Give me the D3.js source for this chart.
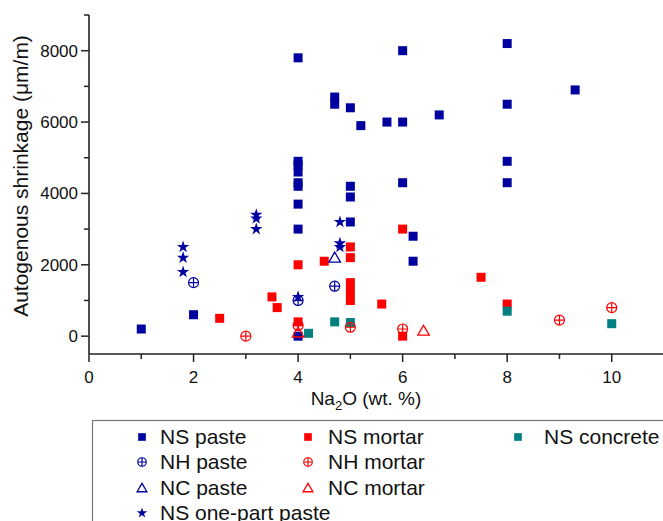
<!DOCTYPE html>
<html>
<head>
<meta charset="utf-8">
<script src="https://cdn.jsdelivr.net/npm/d3@7"></script>
<style>
  body { margin: 0; background: #fff; }
  svg { display: block; font-family: "Liberation Sans", Arial, sans-serif; }
</style>
</head>
<body>
<div id="chart"></div>
<script>
// data: [Na2O wt.%, autogenous shrinkage um/m]
const nsPaste = [[1,200],[2,600],[4,0],[4,3000],[4,3700],[4,4200],[4,4300],[4,4600],[4,4800],[4,4900],[4,7800],
  [4.7,6500],[4.7,6700],[5,3200],[5,3900],[5,4200],[5,6400],[5.2,5900],[5.7,6000],[6,4300],[6,6000],[6,8000],
  [6.2,2100],[6.2,2800],[6.7,6200],[8,4300],[8,4900],[8,6500],[8,8200],[9.3,6900]];
const nsMortar = [[2.5,500],[3.5,1100],[3.6,800],[4,400],[4,2000],[4.5,2100],[5,1000],[5,1250],[5,1500],
  [5,2200],[5,2500],[5.6,900],[6,0],[6,3000],[7.5,1650],[8,900]];
const nsConcrete = [[4.2,80],[4.7,400],[5,380],[8,700],[10,350]];
const nhPaste = [[2,1500],[4,1000],[4.7,1400]];
const nhMortar = [[3,0],[4,300],[5,250],[6,200],[9,450],[10,800]];
const ncPaste = [[4.7,2200]];
const ncMortar = [[4,100],[6.4,150]];
const nsOnePart = [[1.8,1800],[1.8,2200],[1.8,2500],[3.2,3000],[3.2,3300],[3.2,3400],[4,1100],
  [4.8,2500],[4.8,2600],[4.8,3200]];

const xTicks = [0, 2, 4, 6, 8, 10];
const xMinor = [1, 3, 5, 7, 9, 11];
const yTicks = [0, 2000, 4000, 6000, 8000];
const yMinor = [1000, 3000, 5000, 7000, 9000];

const series = [
  { name: "NS paste", data: nsPaste, shape: "square", color: "#0000A0", col: 0, row: 0 },
  { name: "NS mortar", data: nsMortar, shape: "square", color: "#FF0000", col: 1, row: 0 },
  { name: "NS concrete", data: nsConcrete, shape: "square", color: "#008080", col: 2, row: 0 },
  { name: "NH paste", data: nhPaste, shape: "oplus", color: "#0000A0", col: 0, row: 1 },
  { name: "NH mortar", data: nhMortar, shape: "oplus", color: "#FF0000", col: 1, row: 1 },
  { name: "NC paste", data: ncPaste, shape: "tri", color: "#0000A0", col: 0, row: 2 },
  { name: "NC mortar", data: ncMortar, shape: "tri", color: "#FF0000", col: 1, row: 2 },
  { name: "NS one-part paste", data: nsOnePart, shape: "star", color: "#0000A0", col: 0, row: 3 }
];

const width = 663, height = 521;
const svg = d3.select("#chart").append("svg")
  .attr("width", width).attr("height", height);

const x = d3.scaleLinear().domain([0, 11]).range([89, 664]);
const y = d3.scaleLinear().domain([-500, 9000]).range([354, 15]);

function drawMarker(g, shape, color, k) {
  if (shape === "square") {
    g.append("rect").attr("x", -4.5 * k).attr("y", -4.5 * k)
      .attr("width", 9 * k).attr("height", 9 * k).attr("fill", color);
  } else if (shape === "oplus") {
    const r = 5 * k;
    g.append("circle").attr("r", r).attr("fill", "none").attr("stroke", color).attr("stroke-width", 1.2);
    g.append("path").attr("d", `M${-r},0H${r}M0,${-r}V${r}`).attr("stroke", color).attr("stroke-width", 1.2);
  } else if (shape === "tri") {
    const s = 5.5 * k;
    g.append("path").attr("d", `M0,${-s}L${s * 1.05},${s * 0.8}L${-s * 1.05},${s * 0.8}Z`)
      .attr("fill", "none").attr("stroke", color).attr("stroke-width", 1.3);
  } else if (shape === "star") {
    g.append("path").attr("d", d3.symbol(d3.symbolStar, 48 * k * k)()).attr("fill", color);
  }
}

// axes
const axisColor = "#222";
const xAxis = svg.append("g").attr("transform", "translate(0,354)");
xAxis.append("line").attr("x1", 89).attr("x2", 664).attr("stroke", axisColor).attr("stroke-width", 1.6);
xAxis.selectAll(".maj").data(xTicks).join("line")
  .attr("x1", d => x(d)).attr("x2", d => x(d)).attr("y1", 0).attr("y2", 8)
  .attr("stroke", axisColor).attr("stroke-width", 1.5);
xAxis.selectAll(".min").data(xMinor).join("line")
  .attr("x1", d => x(d)).attr("x2", d => x(d)).attr("y1", 0).attr("y2", 5)
  .attr("stroke", axisColor).attr("stroke-width", 1.5);
xAxis.selectAll("text").data(xTicks).join("text")
  .attr("x", d => x(d)).attr("y", 29).attr("text-anchor", "middle")
  .attr("font-size", 17).attr("fill", "#111").text(d => d);

const yAxis = svg.append("g").attr("transform", "translate(89,0)");
yAxis.append("line").attr("y1", 15).attr("y2", 354).attr("stroke", axisColor).attr("stroke-width", 1.6);
yAxis.selectAll(".maj").data(yTicks).join("line")
  .attr("y1", d => y(d)).attr("y2", d => y(d)).attr("x1", 0).attr("x2", -8)
  .attr("stroke", axisColor).attr("stroke-width", 1.5);
yAxis.selectAll(".min").data(yMinor).join("line")
  .attr("y1", d => y(d)).attr("y2", d => y(d)).attr("x1", 0).attr("x2", -5)
  .attr("stroke", axisColor).attr("stroke-width", 1.5);
yAxis.selectAll("text").data(yTicks).join("text")
  .attr("x", -11).attr("y", d => y(d)).attr("dy", "0.35em").attr("text-anchor", "end")
  .attr("font-size", 17).attr("fill", "#111").text(d => d);

// axis titles
const xt = svg.append("text").attr("x", 366).attr("y", 405).attr("text-anchor", "middle")
  .attr("font-size", 19).attr("fill", "#111");
xt.append("tspan").text("Na");
xt.append("tspan").attr("font-size", 13).attr("dy", 5).text("2");
xt.append("tspan").attr("dy", -5).text("O (wt. %)");

svg.append("text").attr("transform", "translate(28,176) rotate(-90)")
  .attr("text-anchor", "middle").attr("font-size", 21).attr("fill", "#111")
  .text("Autogenous shrinkage (\u03bcm/m)");

// points
series.forEach(s => {
  svg.append("g").selectAll("g").data(s.data).join("g")
    .attr("transform", d => `translate(${x(d[0])},${y(d[1])})`)
    .each(function () { drawMarker(d3.select(this), s.shape, s.color, 1); });
});

// legend
const legend = svg.append("g");
legend.append("rect").attr("x", 92.5).attr("y", 420.5).attr("width", 620).attr("height", 140)
  .attr("fill", "none").attr("stroke", "#777").attr("stroke-width", 1.2);
const colX = [142, 308, 518];
const textDx = [18, 20, 26];
const rowY = [437, 462, 488, 513];
series.forEach(s => {
  const g = legend.append("g").attr("transform", `translate(${colX[s.col]},${rowY[s.row]})`);
  drawMarker(g, s.shape, s.color, 0.85);
  g.append("text").attr("x", textDx[s.col]).attr("dy", "0.35em").attr("font-size", 21)
    .attr("fill", "#111").text(s.name);
});
</script>
</body>
</html>
